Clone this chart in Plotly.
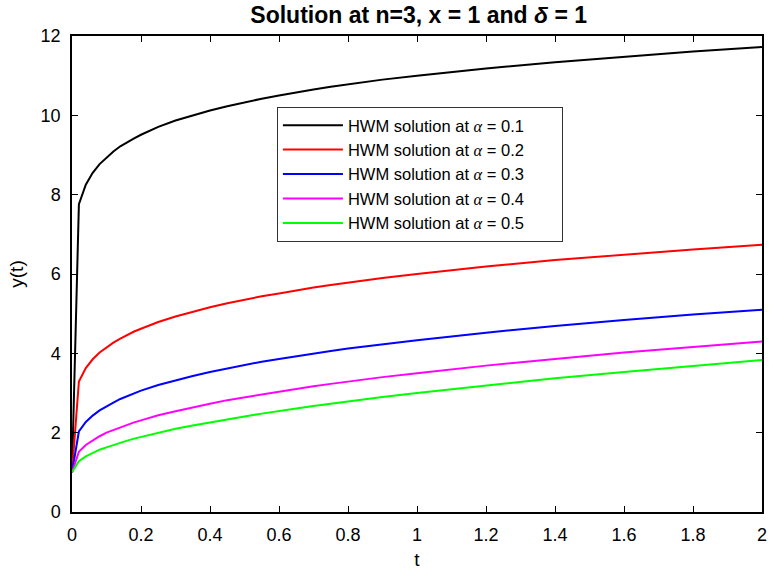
import plotly.graph_objects as go

# Sample times and HWM solution values for each fractional order alpha
t = [0, 0.02, 0.04, 0.06, 0.08, 0.1, 0.12, 0.14, 0.16, 0.18, 0.2, 0.25, 0.3,
     0.35, 0.4, 0.45, 0.5, 0.55, 0.6, 0.65, 0.7, 0.75, 0.8, 0.9, 1.0, 1.2,
     1.4, 1.6, 1.8, 2.0]

y_a01 = [1.00, 7.76, 8.25, 8.55, 8.77, 8.94, 9.09, 9.22, 9.33, 9.42, 9.51,
         9.71, 9.87, 10.00, 10.12, 10.23, 10.33, 10.42, 10.50, 10.58, 10.65,
         10.72, 10.78, 10.90, 11.00, 11.18, 11.34, 11.48, 11.61, 11.72]
y_a02 = [1.00, 3.29, 3.63, 3.85, 4.02, 4.15, 4.27, 4.37, 4.47, 4.55, 4.62,
         4.79, 4.93, 5.05, 5.16, 5.26, 5.35, 5.44, 5.51, 5.59, 5.66, 5.72,
         5.78, 5.90, 6.00, 6.19, 6.35, 6.49, 6.62, 6.74]
y_a03 = [1.00, 2.03, 2.27, 2.43, 2.56, 2.67, 2.76, 2.85, 2.92, 2.99, 3.06,
         3.20, 3.32, 3.43, 3.53, 3.62, 3.71, 3.79, 3.86, 3.93, 3.99, 4.06,
         4.12, 4.23, 4.33, 4.52, 4.69, 4.84, 4.98, 5.10]
y_a04 = [1.00, 1.52, 1.69, 1.81, 1.91, 2.00, 2.07, 2.14, 2.20, 2.26, 2.31,
         2.44, 2.54, 2.64, 2.73, 2.82, 2.89, 2.97, 3.04, 3.10, 3.17, 3.23,
         3.29, 3.40, 3.50, 3.69, 3.86, 4.02, 4.16, 4.30]
y_a05 = [1.00, 1.28, 1.40, 1.49, 1.57, 1.63, 1.69, 1.75, 1.80, 1.85, 1.89,
         2.00, 2.10, 2.18, 2.26, 2.34, 2.41, 2.48, 2.55, 2.61, 2.67, 2.73,
         2.79, 2.90, 3.00, 3.19, 3.37, 3.53, 3.68, 3.83]

alphas = ["0.1", "0.2", "0.3", "0.4", "0.5"]
series = [y_a01, y_a02, y_a03, y_a04, y_a05]
colors = ["#000000", "#FF0000", "#0000FF", "#FF00FF", "#00FF00"]

x_ticks = [0, 0.2, 0.4, 0.6, 0.8, 1, 1.2, 1.4, 1.6, 1.8, 2]
x_labels = ["0", "0.2", "0.4", "0.6", "0.8", "1", "1.2", "1.4", "1.6", "1.8", "2"]
y_ticks = [0, 2, 4, 6, 8, 10, 12]

FONT = "Liberation Sans, Arial, sans-serif"
PAD = "\u00a0" * 7  # trailing room inside the legend box

fig = go.Figure()
for a, ys, c in zip(alphas, series, colors):
    fig.add_trace(go.Scatter(
        x=t, y=ys, mode="lines",
        line=dict(color=c, width=2),
        name=("HWM solution at <span style='font-family:Liberation Serif'>"
              f"<i>α</i></span> = {a}{PAD}"),
    ))

axis_common = dict(
    showline=True, linecolor="black", linewidth=1.5, mirror="ticks",
    ticks="inside", ticklen=6, tickwidth=1.2, tickcolor="black",
    showgrid=False, zeroline=False, automargin=False,
    tickfont=dict(family=FONT, size=18, color="black"),
)

fig.update_layout(
    width=769, height=570,
    margin=dict(l=72, r=7, t=36, b=58),
    paper_bgcolor="white", plot_bgcolor="white",
    title=dict(text="<b>Solution at n=3, x = 1 and <i>δ</i> = 1</b>",
               x=0.5445, xanchor="center", y=0.974, yanchor="middle",
               font=dict(family=FONT, size=23, color="black"),
               automargin=False),
    xaxis=dict(range=[0, 2], tickvals=x_ticks, ticktext=x_labels,
               ticklabelstandoff=6,
               title=dict(text="t", font=dict(family=FONT, size=19, color="black"),
                          standoff=11),
               **axis_common),
    yaxis=dict(range=[0, 12], tickvals=y_ticks,
               ticklabelstandoff=6,
               title=dict(text="y(t)", font=dict(family=FONT, size=19, color="black"),
                          standoff=12),
               **axis_common),
    legend=dict(x=0.297, y=0.851, xanchor="left", yanchor="top",
                bgcolor="white", bordercolor="#333333", borderwidth=1,
                font=dict(family=FONT, size=16.5, color="black"),
                itemwidth=60, tracegroupgap=0),
    showlegend=True,
)

fig.write_html("out.html")
